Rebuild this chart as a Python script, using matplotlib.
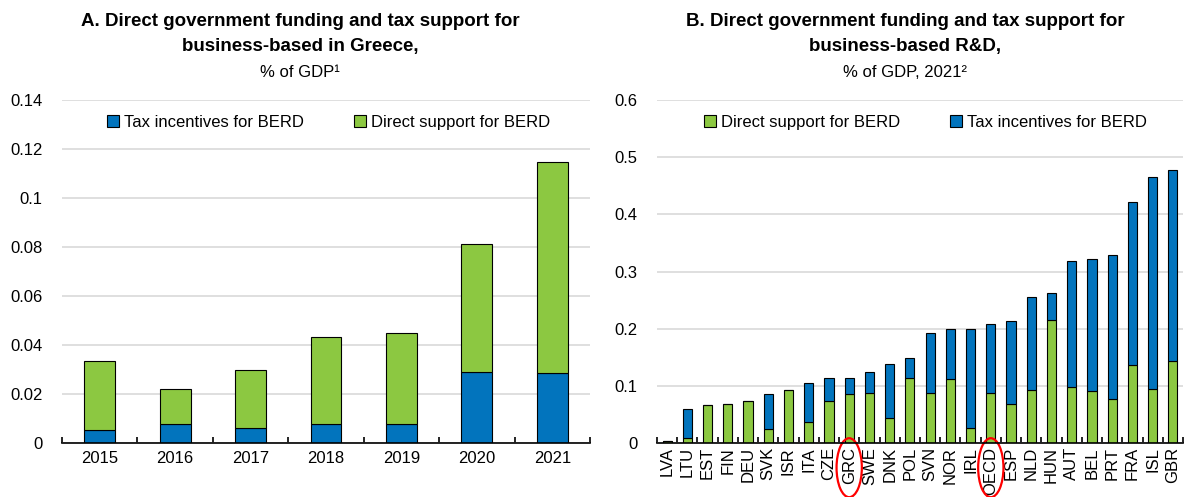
import numpy as np
import matplotlib
matplotlib.use("Agg")
import matplotlib.pyplot as plt
from matplotlib.patches import Ellipse
import matplotlib.transforms as mtransforms

plt.rcParams['font.family'] = ['Liberation Sans', 'DejaVu Sans']

BLUE = '#0274BD'
GREEN = '#8CC841'

# Panel A: Greece over time
years = ['2015', '2016', '2017', '2018', '2019', '2020', '2021']
grc_tax = [0.0052, 0.0078, 0.0062, 0.0079, 0.0079, 0.0290, 0.0286]
grc_total = [0.0336, 0.0219, 0.0296, 0.0433, 0.0449, 0.0812, 0.1145]

# Panel B: countries, 2021
countries = ['LVA', 'LTU', 'EST', 'FIN', 'DEU', 'SVK', 'ISR', 'ITA', 'CZE', 'GRC',
             'SWE', 'DNK', 'POL', 'SVN', 'NOR', 'IRL', 'OECD', 'ESP', 'NLD', 'HUN',
             'AUT', 'BEL', 'PRT', 'FRA', 'ISL', 'GBR']
direct = [0.004, 0.009, 0.066, 0.068, 0.074, 0.025, 0.092, 0.036, 0.074, 0.085,
          0.087, 0.044, 0.114, 0.087, 0.112, 0.027, 0.088, 0.068, 0.093, 0.216,
          0.098, 0.091, 0.077, 0.136, 0.095, 0.144]
total = [0.004, 0.059, 0.066, 0.068, 0.074, 0.085, 0.092, 0.105, 0.114, 0.114,
         0.124, 0.139, 0.148, 0.193, 0.200, 0.200, 0.209, 0.214, 0.255, 0.263,
         0.318, 0.322, 0.328, 0.421, 0.465, 0.477]
tax = [t - d for t, d in zip(total, direct)]
highlight = ['GRC', 'OECD']

fig = plt.figure(figsize=(11.84, 4.97), dpi=100)
axA = fig.add_axes([62/1184, 1 - 443/497, 528/1184, 343/497])
axB = fig.add_axes([657/1184, 1 - 443/497, 526/1184, 343/497])


def style(ax, n, ymax, step, fmt):
    ax.set_xlim(-0.5, n - 0.5)
    ax.set_ylim(0, ymax)
    yt = np.arange(0, ymax + step / 2, step)
    ax.set_yticks(yt)
    ax.set_yticklabels([fmt(v) for v in yt], fontsize=12)
    ax.yaxis.grid(True, color='#D9D9D9', lw=1.2)
    ax.set_axisbelow(True)
    for s in ['top', 'right', 'left']:
        ax.spines[s].set_visible(False)
    ax.spines['bottom'].set_linewidth(1.2)
    ax.tick_params(axis='y', length=0, pad=14)
    ax.tick_params(axis='x', which='major', length=0, labelsize=12)
    ax.set_xticks(np.arange(-0.5, n, 1.0), minor=True)
    ax.tick_params(axis='x', which='minor', direction='in', length=4, width=1.2)


def lab(v):
    s = f'{v:.2f}'.rstrip('0').rstrip('.')
    return s if s else '0'


leg_kw = dict(loc='upper center', ncol=2, frameon=False, fontsize=12,
              handlelength=0.7, handleheight=0.7, handletextpad=0.3, columnspacing=3.0)

# Panel A
x = np.arange(len(years))
green_a = [t - b for t, b in zip(grc_total, grc_tax)]
axA.bar(x, grc_tax, 0.41, color=BLUE, edgecolor='black', lw=0.8, label='Tax incentives for BERD')
axA.bar(x, green_a, 0.41, bottom=grc_tax, color=GREEN, edgecolor='black', lw=0.8,
        label='Direct support for BERD')
style(axA, len(years), 0.14, 0.02, lab)
axA.set_xticks(x)
axA.set_xticklabels(years)
axA.tick_params(axis='x', which='major', pad=6)
axA.legend(bbox_to_anchor=(0.505, 1.0), **leg_kw)

# Panel B
xb = np.arange(len(countries))
axB.bar(xb, direct, 0.45, color=GREEN, edgecolor='black', lw=0.8, label='Direct support for BERD')
axB.bar(xb, tax, 0.45, bottom=direct, color=BLUE, edgecolor='black', lw=0.8,
        label='Tax incentives for BERD')
style(axB, len(countries), 0.6, 0.1, lab)
axB.set_xticks(xb)
axB.set_xticklabels(countries, rotation=90)
axB.tick_params(axis='x', which='major', pad=3)
axB.legend(bbox_to_anchor=(0.51, 1.0), **leg_kw)

trans = mtransforms.blended_transform_factory(axB.transData, axB.transAxes)
for c in highlight:
    i = countries.index(c)
    axB.add_patch(Ellipse((i, -0.072), 1.25, 0.172, transform=trans, fill=False,
                          edgecolor='#FF0000', lw=1.6, clip_on=False))

# Titles
for xc, l1, l2, l3 in [(300, 'A. Direct government funding and tax support for',
                        'business-based in Greece,', '% of GDP¹'),
                       (905, 'B. Direct government funding and tax support for',
                        'business-based R&D,', '% of GDP, 2021²')]:
    fig.text(xc/1184, 1 - 22/497, l1, ha='center', va='center', fontsize=13.5, fontweight='bold')
    fig.text(xc/1184, 1 - 47/497, l2, ha='center', va='center', fontsize=13.5, fontweight='bold')
    fig.text(xc/1184, 1 - 72/497, l3, ha='center', va='center', fontsize=12)

fig.savefig('out.png', dpi=100)
